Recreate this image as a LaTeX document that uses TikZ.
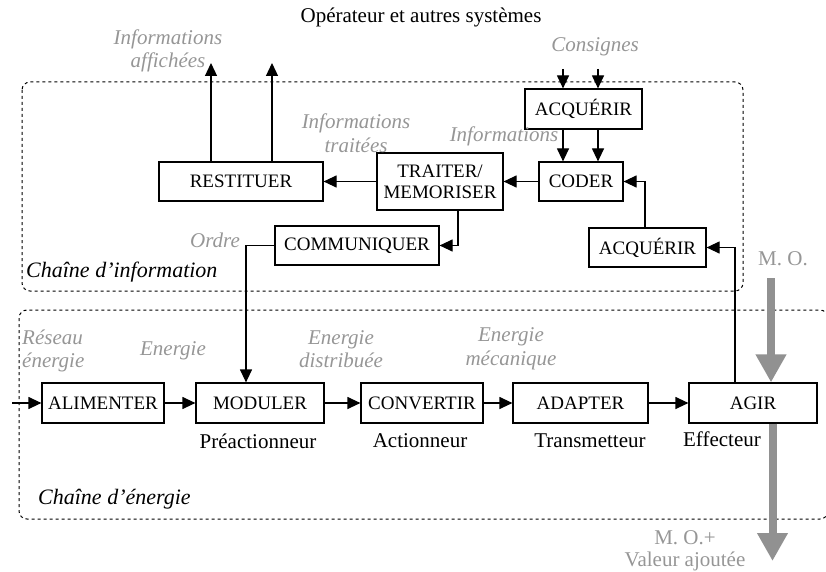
\documentclass[tikz,border=0pt]{standalone}
\usepackage{fontspec}
\setmainfont{Liberation Serif}
\usetikzlibrary{arrows.meta}
\definecolor{lgray}{RGB}{150,150,150}
\definecolor{agray}{RGB}{145,145,145}
\tikzset{
  box/.style={draw, line width=1.2pt, rectangle, inner sep=0pt, font=\fontsize{19}{21}\selectfont, align=center},
  arr/.style={line width=1.2pt, -{Triangle[length=13pt,width=12pt]}},
  bigarr/.style={draw=agray, line width=8pt, -{Triangle[length=28pt,width=29pt]}},
  glab/.style={text=lgray, font=\fontsize{21}{23.5}\selectfont\itshape, align=center, inner sep=0pt},
  rlab/.style={font=\fontsize{21}{23}\selectfont, inner sep=0pt},
  chainbox/.style={line width=1pt, dash pattern=on 3pt off 3pt, rounded corners=8pt},
}
\begin{document}
\begin{tikzpicture}[x=1pt,y=-1pt]
\useasboundingbox (0,0) rectangle (826,572);

% chain frames
\draw[chainbox] (22,82) rectangle (743,291);
\draw[chainbox] (19,310) rectangle (828,519);

% title
\node[rlab] (title) at (421,17) {Opérateur et autres systèmes};

% information chain boxes
\node[box, minimum width=117pt, minimum height=40pt] (acq1) at (583.5,109) {ACQUÉRIR};
\node[box, minimum width=84pt, minimum height=39pt] (coder) at (581,181.5) {CODER};
\node[box, minimum width=126pt, minimum height=57pt] (traiter) at (440,181.5) {TRAITER/\\MEMORISER};
\node[box, minimum width=164pt, minimum height=39pt] (restit) at (241,181.5) {RESTITUER};
\node[box, minimum width=164pt, minimum height=39pt] (comm) at (357,245.5) {COMMUNIQUER};
\node[box, minimum width=117pt, minimum height=39pt] (acq2) at (647.5,247.5) {ACQUÉRIR};

% energy chain boxes
\node[box, minimum width=122pt, minimum height=40pt] (alim) at (103,403) {ALIMENTER};
\node[box, minimum width=128pt, minimum height=40pt] (modul) at (260,403) {MODULER};
\node[box, minimum width=122pt, minimum height=40pt] (conv) at (422,403) {CONVERTIR};
\node[box, minimum width=135pt, minimum height=40pt] (adapt) at (580.5,403) {ADAPTER};
\node[box, minimum width=128pt, minimum height=40pt] (agir) at (753,403) {AGIR};

% sub labels
\node[rlab] (preac) at (258,441) {Préactionneur};
\node[rlab] (actio) at (420,441) {Actionneur};
\node[rlab] (trans) at (590,441) {Transmetteur};
\node[rlab] (effec) at (722,439) {Effecteur};

% gray labels
\node[glab] (infaff) at (168,51) {Informations\\affichées};
\node[glab] (consig) at (595,47) {Consignes};
\node[glab] (inftrt) at (356,133) {Informations\\traitées};
\node[glab] (infos) at (504,136) {Informations};
\node[glab] (ordre) at (215,240) {Ordre};
\node[glab, align=left, anchor=west] (reseau) at (22,351) {Réseau\\énergie};
\node[glab] (energ) at (173,351) {Energie};
\node[glab] (edist) at (341,349) {Energie\\distribuée};
\node[glab] (emeca) at (511,349) {Energie\\mécanique};
\node[text=lgray, font=\fontsize{21}{23}\selectfont, inner sep=0pt] (mo) at (783,259) {M. O.};
\node[text=lgray, font=\fontsize{21}{22}\selectfont, inner sep=0pt, align=center] (mova) at (685,551) {M. O.+\\Valeur ajoutée};
\node[font=\fontsize{22}{24}\selectfont\itshape, anchor=west, inner sep=0pt] (cinfo) at (26,272) {Chaîne d’information};
\node[font=\fontsize{22}{24}\selectfont\itshape, anchor=west, inner sep=0pt] (cener) at (38,499) {Chaîne d’énergie};

% coordinates for free ends
\coordinate (c1) at (563,69);
\coordinate (c2) at (598,69);
\coordinate (u1) at (211,63);
\coordinate (u2) at (272,63);
\coordinate (ein) at (12,403);
\coordinate (mostart) at (771,278);
\coordinate (moend) at (772.5,561);

% information connectors
\draw[arr] (c1) -- (c1 |- acq1.north);
\draw[arr] (c2) -- (c2 |- acq1.north);
\draw[arr] (c1 |- acq1.south) -- (c1 |- coder.north);
\draw[arr] (c2 |- acq1.south) -- (c2 |- coder.north);
\draw[arr] (coder.west) -- (traiter.east);
\draw[arr] (traiter.west) -- (restit.east);
\draw[arr] (u1 |- restit.north) -- (u1);
\draw[arr] (u2 |- restit.north) -- (u2);
\draw[arr] ([xshift=18pt]traiter.south) |- (comm.east);
\draw[arr] (comm.west) -| ([xshift=-14pt]modul.north);
\draw[arr] ([xshift=-2.5pt]acq2.north) |- (coder.east);
\draw[arr] ([xshift=-18pt]agir.north) |- (acq2.east);

% energy connectors
\draw[arr] (ein) -- (alim.west);
\draw[arr] (alim.east) -- (modul.west);
\draw[arr] (modul.east) -- (conv.west);
\draw[arr] (conv.east) -- (adapt.west);
\draw[arr] (adapt.east) -- (agir.west);

% matter flow arrows
\draw[bigarr] (mostart) -- (mostart |- agir.north);
\draw[bigarr] (moend |- agir.south) -- (moend);
\end{tikzpicture}
\end{document}
